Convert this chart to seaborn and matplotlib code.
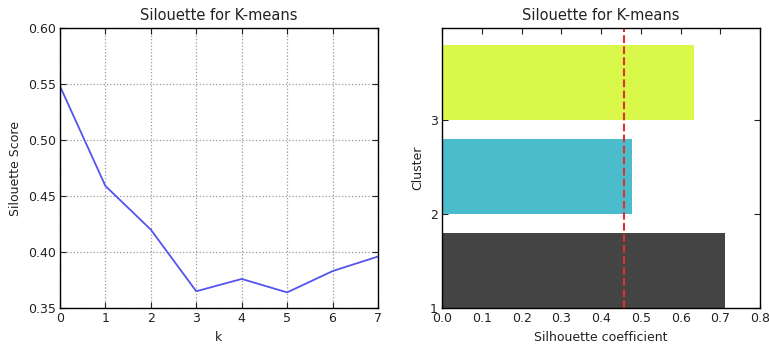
import matplotlib
matplotlib.use("Agg")
import matplotlib.pyplot as plt
import numpy as np
import pandas as pd
import seaborn as sns

# silhouette score per k
k_values = [0, 1, 2, 3, 4, 5, 6, 7]
scores = [0.548, 0.459, 0.420, 0.365, 0.376, 0.364, 0.383, 0.396]

# silhouette coefficient per cluster
clusters = [1, 2, 3]
coefficients = [0.712, 0.478, 0.634]
bar_colors = ["#444444", "#4bbccc", "#d9f84a"]
avg_coef = 0.458

sns.set_theme(style="white")
plt.rcParams["font.family"] = ["DejaVu Sans"]
plt.rcParams["text.color"] = "#222222"
plt.rcParams["axes.labelcolor"] = "#222222"
plt.rcParams["xtick.color"] = "#222222"
plt.rcParams["ytick.color"] = "#222222"

fig = plt.figure(figsize=(7.69, 3.45), dpi=100)
ax1 = fig.add_axes([0.078, 0.107, 0.4135, 0.812])
ax2 = fig.add_axes([0.575, 0.107, 0.4135, 0.812])

df = pd.DataFrame({"k": k_values, "score": scores})
sns.lineplot(data=df, x="k", y="score", ax=ax1, color="#5454ee", linewidth=1.3)
ax1.set_xlim(0, 7)
ax1.set_ylim(0.35, 0.60)
ax1.set_xticks(range(0, 8))
ax1.set_yticks([0.35, 0.40, 0.45, 0.50, 0.55, 0.60])
ax1.set_yticklabels(["0.35", "0.40", "0.45", "0.50", "0.55", "0.60"])
ax1.grid(True, linestyle=":", color="#999999", linewidth=0.9)
ax1.set_xlabel("k", fontsize=9)
ax1.set_ylabel("Silouette Score", fontsize=9)
ax1.set_title("Silouette for K-means", fontsize=10.5)

ax2.barh(clusters, coefficients, height=0.8, align="edge", color=bar_colors,
         edgecolor="none")
ax2.axvline(avg_coef, color="#e03030", linestyle="--", linewidth=1.5)
ax2.set_xlim(0, 0.8)
ax2.set_ylim(1, 3.98)
ax2.set_yticks(clusters)
ax2.set_xticks(np.arange(0, 0.81, 0.1))
ax2.set_xticklabels([f"{v:.1f}" for v in np.arange(0, 0.81, 0.1)])
ax2.set_xlabel("Silhouette coefficient", fontsize=9)
ax2.set_ylabel("Cluster", fontsize=9)
ax2.set_title("Silouette for K-means", fontsize=10.5)

for ax in (ax1, ax2):
    ax.tick_params(direction="in", top=True, right=True, length=4, width=0.8,
                   labelsize=9, pad=3, bottom=True, left=True)
    for s in ax.spines.values():
        s.set_color("black")
        s.set_linewidth(1.0)
        s.set_visible(True)
    ax.set_axisbelow(True)

fig.savefig("out.png", dpi=100)
